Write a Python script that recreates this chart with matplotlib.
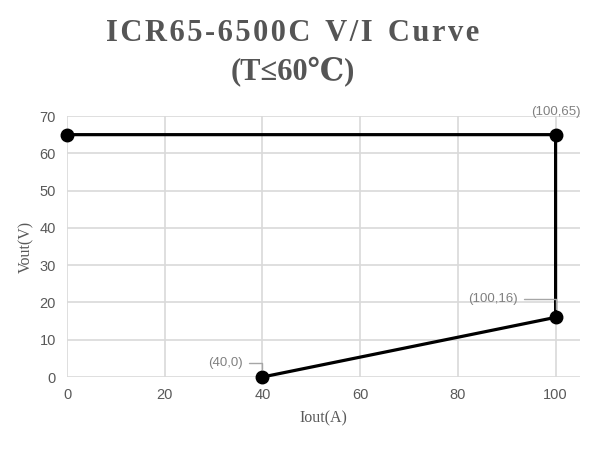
import matplotlib
matplotlib.use("Agg")
import matplotlib.pyplot as plt

iout = [0, 100, 100, 40]
vout = [65, 65, 16, 0]
labels = ["", "(100,65)", "(100,16)", "(40,0)"]

xticks = [0, 20, 40, 60, 80, 100]
yticks = [0, 10, 20, 30, 40, 50, 60, 70]

title_words = ["ICR65-6500C", "V/I", "Curve"]

fig = plt.figure(figsize=(6, 4.5), dpi=100)
ax = fig.add_axes([0.1117, 0.1622, 0.855, 0.58])

ax.plot(iout, vout, color="black", linewidth=2.3, marker="o", markersize=9,
        solid_joinstyle="miter", zorder=3, clip_on=False)

ax.set_xlim(0, 105)
ax.set_ylim(0, 70)
ax.set_xticks(xticks)
ax.set_yticks(yticks)
ax.grid(True, color="#d9d9d9", linewidth=1.2)
ax.set_axisbelow(True)
for s in ax.spines.values():
    s.set_visible(False)
ax.tick_params(length=0, labelsize=10.5, colors="#595959", pad=8,
               labelfontfamily="Liberation Sans")

ax.set_xlabel("Iout(A)", fontsize=11.5, color="#595959", family="Liberation Serif", labelpad=6)
ax.set_ylabel("Vout(V)", fontsize=11.5, color="#595959", family="Liberation Serif", labelpad=4)

ann = dict(fontsize=9.5, color="#808080", family="Liberation Sans")
lead = dict(arrowstyle="-", color="#a6a6a6", lw=1, shrinkA=2, shrinkB=6,
            connectionstyle="angle,angleA=0,angleB=90,rad=0")
ax.annotate(labels[1], (iout[1], vout[1]), xytext=(0, 12), textcoords="offset points",
            ha="center", va="bottom", annotation_clip=False, **ann)
ax.annotate(labels[2], (iout[2], vout[2]), xytext=(-27, 13), textcoords="offset points",
            ha="right", va="center", arrowprops=lead, **ann)
ax.annotate(labels[3], (iout[3], vout[3]), xytext=(-14, 10), textcoords="offset points",
            ha="right", va="center", arrowprops=lead, **ann)

# spaced-out title letters
title = "  ".join("\u200a".join(w) for w in title_words)
fig.text(0.488, 0.926, title, ha="center", va="center", fontsize=22,
         fontweight="bold", color="#555555", family=["Liberation Serif", "DejaVu Serif"])
fig.text(0.488, 0.84, "(T≤60℃)", ha="center", va="center", fontsize=22,
         fontweight="bold", color="#555555", family=["Liberation Serif", "DejaVu Serif"])

fig.savefig("out.png", dpi=100)
